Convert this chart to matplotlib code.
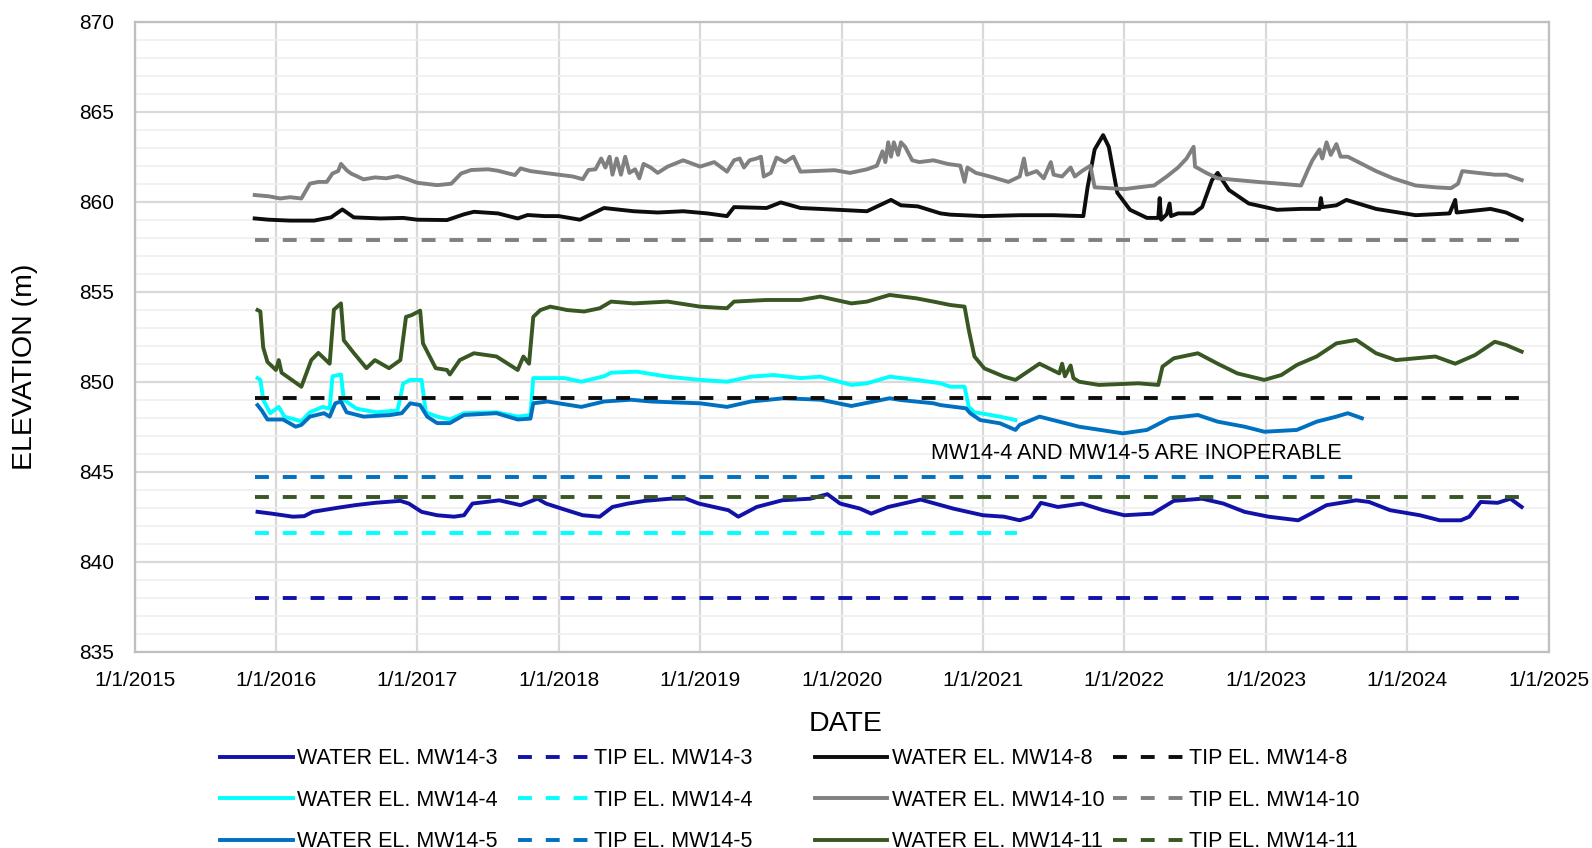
import matplotlib
matplotlib.use("Agg")
import matplotlib.pyplot as plt
import numpy as np

plt.rcParams['font.family'] = ['Liberation Sans', 'DejaVu Sans']
plt.rcParams['lines.scale_dashes'] = False

# ---------------- data (decimal years, elevation m) ----------------
mw3_t = [2015.87, 2015.97, 2016.12, 2016.2, 2016.26, 2016.44, 2016.56, 2016.7, 2016.88, 2016.94,
         2017.03, 2017.14, 2017.26, 2017.33, 2017.39, 2017.58, 2017.73, 2017.85, 2017.91, 2018.02,
         2018.17, 2018.29, 2018.38, 2018.49, 2018.61, 2018.79, 2018.9, 2018.99, 2019.2, 2019.27,
         2019.4, 2019.58, 2019.78, 2019.9, 2019.99, 2020.13, 2020.21, 2020.33, 2020.56, 2020.79,
         2021.0, 2021.15, 2021.26, 2021.34, 2021.41, 2021.53, 2021.7, 2021.85, 2022.0, 2022.2,
         2022.35, 2022.55, 2022.7, 2022.85, 2023.02, 2023.23, 2023.32, 2023.43, 2023.64, 2023.73,
         2023.88, 2024.09, 2024.23, 2024.38, 2024.44, 2024.52, 2024.64, 2024.73, 2024.81]
mw3_v = [842.77, 842.67, 842.5, 842.53, 842.77, 843.0, 843.14, 843.27, 843.38, 843.23,
         842.77, 842.58, 842.5, 842.58, 843.23, 843.41, 843.14, 843.5, 843.23, 842.95,
         842.58, 842.5, 843.04, 843.23, 843.38, 843.5, 843.5, 843.23, 842.86, 842.5,
         843.04, 843.41, 843.5, 843.75, 843.23, 842.95, 842.67, 843.04, 843.45, 842.95,
         842.58, 842.5, 842.3, 842.5, 843.27, 843.04, 843.23, 842.86, 842.58, 842.67,
         843.38, 843.5, 843.23, 842.77, 842.5, 842.3, 842.67, 843.14, 843.41, 843.32,
         842.86, 842.58, 842.3, 842.3, 842.5, 843.32, 843.27, 843.5, 843.04]

mw4_t = [2015.87, 2015.89, 2015.91, 2015.96, 2016.02, 2016.06, 2016.18, 2016.24, 2016.33, 2016.38,
         2016.4, 2016.46, 2016.48, 2016.57, 2016.71, 2016.86, 2016.9, 2016.95, 2017.03, 2017.06,
         2017.14, 2017.23, 2017.33, 2017.56, 2017.71, 2017.8, 2017.82, 2018.04, 2018.16, 2018.32,
         2018.37, 2018.55, 2018.77, 2019.0, 2019.19, 2019.36, 2019.52, 2019.71, 2019.85, 2020.07,
         2020.18, 2020.34, 2020.53, 2020.7, 2020.77, 2020.87, 2020.9, 2020.94, 2020.98, 2021.12,
         2021.23]
mw4_v = [850.2, 850.1, 849.0, 848.25, 848.6, 848.06, 847.8, 848.3, 848.6, 848.5,
         850.3, 850.4, 849.0, 848.5, 848.3, 848.4, 849.9, 850.1, 850.1, 848.3,
         848.06, 847.9, 848.25, 848.3, 848.06, 848.15, 850.2, 850.2, 850.0, 850.3,
         850.5, 850.56, 850.28, 850.1, 850.0, 850.28, 850.37, 850.2, 850.28, 849.82,
         849.91, 850.28, 850.1, 849.91, 849.72, 849.72, 848.6, 848.3, 848.25, 848.06,
         847.87]

mw5_t = [2015.87, 2015.9, 2015.94, 2016.05, 2016.14, 2016.18, 2016.24, 2016.34, 2016.38, 2016.42,
         2016.46, 2016.5, 2016.62, 2016.81, 2016.89, 2016.95, 2017.02, 2017.07, 2017.14, 2017.23,
         2017.33, 2017.56, 2017.71, 2017.8, 2017.82, 2017.92, 2018.16, 2018.32, 2018.51, 2018.65,
         2019.0, 2019.19, 2019.36, 2019.59, 2019.85, 2020.07, 2020.34, 2020.42, 2020.65, 2020.7,
         2020.88, 2020.91, 2020.98, 2021.12, 2021.23, 2021.26, 2021.4, 2021.54, 2021.68, 2021.99,
         2022.16, 2022.32, 2022.52, 2022.66, 2022.85, 2022.99, 2023.22, 2023.36, 2023.5, 2023.58,
         2023.68]
mw5_v = [848.7, 848.4, 847.9, 847.9, 847.5, 847.6, 848.06, 848.25, 848.06, 848.8,
         848.9, 848.3, 848.06, 848.15, 848.25, 848.8, 848.7, 848.06, 847.7, 847.7,
         848.15, 848.25, 847.9, 847.95, 848.8, 848.9, 848.6, 848.9, 849.0, 848.9,
         848.8, 848.6, 848.9, 849.08, 849.0, 848.65, 849.08, 848.98, 848.8, 848.7,
         848.52, 848.25, 847.87, 847.69, 847.32, 847.6, 848.06, 847.78, 847.5, 847.13,
         847.32, 847.97, 848.15, 847.78, 847.5, 847.22, 847.32, 847.78, 848.06, 848.25,
         847.97]

mw8_t = [2015.85, 2015.95, 2016.1, 2016.27, 2016.39, 2016.47, 2016.55, 2016.74, 2016.9, 2017.0,
         2017.21, 2017.33, 2017.4, 2017.57, 2017.71, 2017.78, 2017.9, 2018.0, 2018.15, 2018.32,
         2018.53, 2018.7, 2018.88, 2019.05, 2019.19, 2019.24, 2019.47, 2019.57, 2019.71, 2019.95,
         2020.18, 2020.35, 2020.42, 2020.54, 2020.7, 2020.77, 2021.0, 2021.26, 2021.5, 2021.71,
         2021.74, 2021.79, 2021.85, 2021.89, 2021.95, 2022.04, 2022.16, 2022.24, 2022.25, 2022.26,
         2022.3, 2022.32, 2022.33, 2022.38, 2022.49, 2022.55, 2022.62, 2022.66, 2022.74, 2022.88,
         2023.08, 2023.25, 2023.38, 2023.39, 2023.4, 2023.5, 2023.57, 2023.78, 2024.06, 2024.3,
         2024.34, 2024.35, 2024.59, 2024.7, 2024.81]
mw8_v = [859.07, 859.0, 858.95, 858.95, 859.13, 859.57, 859.13, 859.07, 859.1, 859.0,
         858.98, 859.3, 859.44, 859.35, 859.07, 859.26, 859.2, 859.2, 859.0, 859.65,
         859.47, 859.4, 859.47, 859.35, 859.2, 859.7, 859.65, 859.96, 859.65, 859.56,
         859.47, 860.1, 859.8, 859.74, 859.35, 859.28, 859.2, 859.25, 859.25, 859.2,
         860.8, 862.9, 863.7, 863.05, 860.5, 859.55, 859.1, 859.1, 860.2, 859.0,
         859.3, 859.9, 859.2, 859.35, 859.35, 859.7, 861.2, 861.6, 860.65, 859.9,
         859.55, 859.6, 859.6, 860.2, 859.7, 859.8, 860.1, 859.6, 859.25, 859.35,
         860.1, 859.4, 859.6, 859.4, 859.0]

mw10_t = [2015.85, 2015.95, 2016.03, 2016.1, 2016.18, 2016.24, 2016.3, 2016.36, 2016.4, 2016.44,
          2016.46, 2016.5, 2016.53, 2016.62, 2016.7, 2016.78, 2016.86, 2016.93, 2017.0, 2017.14,
          2017.24, 2017.31, 2017.38, 2017.5, 2017.57, 2017.69, 2017.73, 2017.8, 2017.9, 2018.0,
          2018.1, 2018.17, 2018.21, 2018.26, 2018.3, 2018.33, 2018.36, 2018.38, 2018.41, 2018.44,
          2018.47, 2018.5, 2018.54, 2018.57, 2018.6, 2018.65, 2018.7, 2018.77, 2018.88, 2019.0,
          2019.1, 2019.19, 2019.24, 2019.28, 2019.31, 2019.35, 2019.4, 2019.43, 2019.45, 2019.5,
          2019.54, 2019.6, 2019.66, 2019.71, 2019.8, 2019.95, 2020.06, 2020.18, 2020.25, 2020.29,
          2020.31, 2020.33, 2020.35, 2020.37, 2020.4, 2020.42, 2020.45, 2020.5, 2020.55, 2020.65,
          2020.75, 2020.84, 2020.87, 2020.89, 2020.95, 2021.05, 2021.18, 2021.26, 2021.29, 2021.31,
          2021.38, 2021.43, 2021.48, 2021.5, 2021.56, 2021.62, 2021.65, 2021.7, 2021.76, 2021.79,
          2021.9, 2022.0, 2022.1, 2022.21, 2022.3, 2022.38, 2022.44, 2022.49, 2022.5, 2022.58,
          2022.66, 2022.8, 2022.94, 2023.1, 2023.25, 2023.3, 2023.33, 2023.38, 2023.4, 2023.43,
          2023.46, 2023.5, 2023.53, 2023.58, 2023.68, 2023.78, 2023.9, 2024.06, 2024.2, 2024.31,
          2024.36, 2024.39, 2024.5, 2024.62, 2024.7, 2024.81]
mw10_v = [860.37, 860.3, 860.18, 860.25, 860.18, 861.0, 861.1, 861.1, 861.57, 861.7,
          862.1, 861.75, 861.57, 861.24, 861.35, 861.3, 861.42, 861.25, 861.05, 860.92,
          861.0, 861.57, 861.76, 861.8, 861.72, 861.48, 861.85, 861.7, 861.6, 861.5,
          861.4, 861.25, 861.76, 861.8, 862.4, 861.9, 862.5, 861.5, 862.4, 861.5,
          862.5, 861.6, 861.8, 861.3, 862.1, 861.9, 861.6, 861.95, 862.3, 861.95,
          862.2, 861.67, 862.3, 862.4, 861.9, 862.3, 862.4, 862.5, 861.4, 861.6,
          862.45, 862.2, 862.5, 861.67, 861.7, 861.75, 861.6, 861.8, 862.0, 862.8,
          862.2, 863.3, 862.5, 863.3, 862.6, 863.3, 863.05, 862.3, 862.2, 862.3,
          862.1, 862.0, 861.1, 861.9, 861.6, 861.4, 861.1, 861.4, 862.4, 861.5,
          861.7, 861.3, 862.2, 861.5, 861.4, 861.9, 861.4, 861.7, 862.0, 860.8,
          860.75, 860.7, 860.8, 860.9, 861.4, 861.9, 862.4, 863.05, 861.95, 861.6,
          861.3, 861.2, 861.1, 861.0, 860.9, 861.8, 862.3, 862.9, 862.4, 863.3,
          862.6, 863.2, 862.5, 862.5, 862.1, 861.7, 861.3, 860.9, 860.8, 860.75,
          861.0, 861.7, 861.6, 861.5, 861.5, 861.2]

mw11_t = [2015.87, 2015.89, 2015.91, 2015.94, 2016.0, 2016.02, 2016.04, 2016.13, 2016.18, 2016.25,
          2016.3, 2016.38, 2016.41, 2016.46, 2016.48, 2016.55, 2016.64, 2016.7, 2016.8, 2016.88,
          2016.92, 2016.96, 2017.02, 2017.04, 2017.13, 2017.21, 2017.23, 2017.3, 2017.4, 2017.56,
          2017.71, 2017.75, 2017.79, 2017.82, 2017.87, 2017.94, 2018.06, 2018.18, 2018.29, 2018.37,
          2018.53, 2018.77, 2019.0, 2019.19, 2019.24, 2019.47, 2019.71, 2019.85, 2020.07, 2020.18,
          2020.34, 2020.53, 2020.65, 2020.77, 2020.87, 2020.9, 2020.94, 2021.01, 2021.15, 2021.23,
          2021.4, 2021.54, 2021.56, 2021.58, 2021.62, 2021.64, 2021.68, 2021.82, 2022.1, 2022.24,
          2022.27, 2022.35, 2022.52, 2022.66, 2022.8, 2022.99, 2023.11, 2023.22, 2023.36, 2023.5,
          2023.64, 2023.78, 2023.92, 2024.06, 2024.2, 2024.34, 2024.48, 2024.62, 2024.7, 2024.81]
mw11_v = [853.98, 853.9, 851.9, 851.1, 850.65, 851.2, 850.5, 850.0, 849.72, 851.2,
          851.6, 851.0, 854.0, 854.35, 852.3, 851.6, 850.75, 851.2, 850.75, 851.2,
          853.6, 853.7, 853.95, 852.13, 850.75, 850.65, 850.4, 851.2, 851.58, 851.4,
          850.65, 851.4, 851.0, 853.6, 853.98, 854.17, 853.98, 853.9, 854.08, 854.45,
          854.35, 854.45, 854.17, 854.08, 854.45, 854.54, 854.54, 854.73, 854.35, 854.45,
          854.82, 854.63, 854.45, 854.26, 854.17, 852.87, 851.4, 850.74, 850.28, 850.1,
          851.0, 850.46, 851.0, 850.3, 850.9, 850.2, 850.0, 849.82, 849.91, 849.82,
          850.84, 851.3, 851.58, 851.0, 850.46, 850.1, 850.37, 850.93, 851.4, 852.13,
          852.32, 851.58, 851.2, 851.3, 851.4, 851.0, 851.48, 852.22, 852.04, 851.67]

# tip elevations and their date spans
tip_start = 2015.85
tip_mw3, tip_mw4, tip_mw5 = 838.0, 841.6, 844.7
tip_mw8, tip_mw10, tip_mw11 = 849.07, 857.9, 843.6
tip_end_mw3, tip_end_mw4, tip_end_mw5 = 2024.81, 2021.24, 2023.62
tip_end_mw8, tip_end_mw10, tip_end_mw11 = 2024.81, 2024.81, 2024.81

year_ticks = list(range(2015, 2026))
year_labels = ["1/1/%d" % y for y in year_ticks]

note_text = "MW14-4 AND MW14-5 ARE INOPERABLE"

# ---------------- styling ----------------
c3, c4, c5 = '#1212A8', '#00FFFF', '#0070C0'
c8, c10, c11 = '#0D0D0D', '#808080', '#385723'
LW = 2.8
DASH = (10, 10)
FS = 15.5

fig = plt.figure(figsize=(15.92, 8.48), dpi=100)
ax = fig.add_axes([0.0845, 0.2315, 0.8882, 0.7429])

series = [
    (mw3_t, mw3_v, tip_mw3, tip_end_mw3, c3, "MW14-3"),
    (mw4_t, mw4_v, tip_mw4, tip_end_mw4, c4, "MW14-4"),
    (mw5_t, mw5_v, tip_mw5, tip_end_mw5, c5, "MW14-5"),
    (mw8_t, mw8_v, tip_mw8, tip_end_mw8, c8, "MW14-8"),
    (mw10_t, mw10_v, tip_mw10, tip_end_mw10, c10, "MW14-10"),
    (mw11_t, mw11_v, tip_mw11, tip_end_mw11, c11, "MW14-11"),
]
water_handles, tip_handles = {}, {}
for t, v, tip, tend, col, name in series:
    lw_, = ax.plot(t, v, color=col, lw=LW, solid_joinstyle='round', zorder=3)
    lt_, = ax.plot([tip_start, tend], [tip, tip], color=col, lw=LW, dashes=DASH, zorder=3)
    water_handles[name] = lw_
    tip_handles[name] = lt_

ax.text(2020.63, 846.0, note_text, fontsize=FS, va='center', ha='left', color='#000000', zorder=4)

ax.set_xlim(2015, 2025)
ax.set_ylim(835, 870)
ax.set_xticks(year_ticks)
ax.set_xticklabels(year_labels)
ax.set_yticks(np.arange(835, 871, 5))
ax.set_yticks(np.arange(835, 871, 1), minor=True)
ax.tick_params(axis='both', which='both', length=0, labelsize=15, colors='#000000')
ax.tick_params(axis='y', pad=14.5)
ax.tick_params(axis='x', pad=14)
ax.grid(True, which='minor', axis='y', color='#efefef', lw=1.2, zorder=0)
ax.grid(True, which='major', axis='y', color='#d9d9d9', lw=1.6, zorder=0)
ax.grid(True, which='major', axis='x', color='#d9d9d9', lw=1.6, zorder=0)
ax.set_axisbelow(True)
for s in ax.spines.values():
    s.set_color('#bfbfbf')
    s.set_linewidth(1.6)

fig.text(0.5313, 0.1468, "DATE", fontsize=20.5, ha='center', va='center')
fig.text(0.016, 0.5674, "ELEVATION (m)", fontsize=20.5, ha='center', va='center', rotation=90)

# legend: 4 columns, drawn as 4 separate legends for equal column widths
cols = [
    [water_handles["MW14-3"], water_handles["MW14-4"], water_handles["MW14-5"]],
    [tip_handles["MW14-3"], tip_handles["MW14-4"], tip_handles["MW14-5"]],
    [water_handles["MW14-8"], water_handles["MW14-10"], water_handles["MW14-11"]],
    [tip_handles["MW14-8"], tip_handles["MW14-10"], tip_handles["MW14-11"]],
]
col_labels = [
    ["WATER EL. MW14-3", "WATER EL. MW14-4", "WATER EL. MW14-5"],
    ["TIP EL. MW14-3", "TIP EL. MW14-4", "TIP EL. MW14-5"],
    ["WATER EL. MW14-8", "WATER EL. MW14-10", "WATER EL. MW14-11"],
    ["TIP EL. MW14-8", "TIP EL. MW14-10", "TIP EL. MW14-11"],
]
col_x = [0.1385, 0.3254, 0.512, 0.699]
for hs, ls, x in zip(cols, col_labels, col_x):
    fig.legend(hs, ls, loc='upper left', bbox_to_anchor=(x, 0.1175), frameon=False,
               fontsize=FS, handlelength=3.35, handletextpad=0.2, borderpad=0,
               borderaxespad=0, labelspacing=0.95)

fig.savefig("out.png", dpi=100)
